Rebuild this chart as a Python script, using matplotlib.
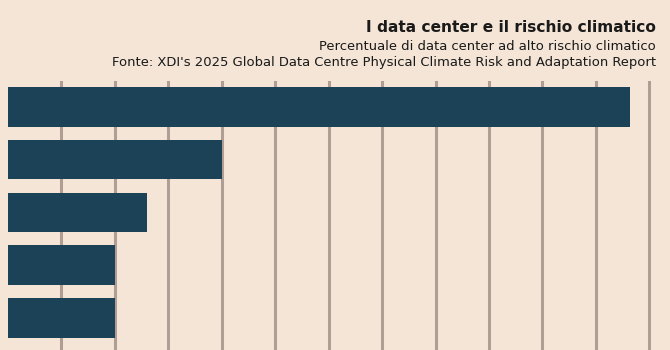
import matplotlib
matplotlib.use("Agg")
import matplotlib.pyplot as plt

categories = ["A", "B", "C", "D", "E"]
values = [58.2, 20.0, 13.0, 10.0, 10.0]
ticks = [5, 10, 15, 20, 25, 30, 35, 40, 45, 50, 55, 60]

title = "I data center e il rischio climatico"
subtitle = "Percentuale di data center ad alto rischio climatico"
source = "Fonte: XDI's 2025 Global Data Centre Physical Climate Risk and Adaptation Report"

bg = "#F5E5D6"
bar_color = "#1C4257"
grid_color = "#B09E94"

fig = plt.figure(figsize=(6.7, 3.5), dpi=100, facecolor=bg)
ax = fig.add_axes([8/670, 0, (662-8)/670, (350-81)/350])
ax.set_facecolor(bg)

y = list(range(len(categories)))
ax.barh(y, values, height=0.75, color=bar_color, zorder=3)
ax.set_xlim(0, 654/10.69)
ax.set_ylim(4.61, -0.49)
ax.set_xticks(ticks)
ax.set_yticks(y)
ax.set_yticklabels([])
ax.set_xticklabels([])
ax.tick_params(length=0)
ax.grid(axis="x", color=grid_color, linewidth=2.2, zorder=1)
ax.grid(axis="y", visible=False)
for s in ax.spines.values():
    s.set_visible(False)

fx = 656/670
fig.text(fx, 1 - 31.5/350, title, ha="right", va="baseline", fontsize=11.1,
         fontweight="bold", family="DejaVu Sans", color="#1a1a1a")
fig.text(fx, 1 - 50/350, subtitle, ha="right", va="baseline", fontsize=9.45,
         family="DejaVu Sans", color="#1a1a1a")
fig.text(fx, 1 - 66/350, source, ha="right", va="baseline", fontsize=9.45,
         family="DejaVu Sans", color="#1a1a1a")

fig.savefig("out.png", dpi=100, facecolor=bg)
